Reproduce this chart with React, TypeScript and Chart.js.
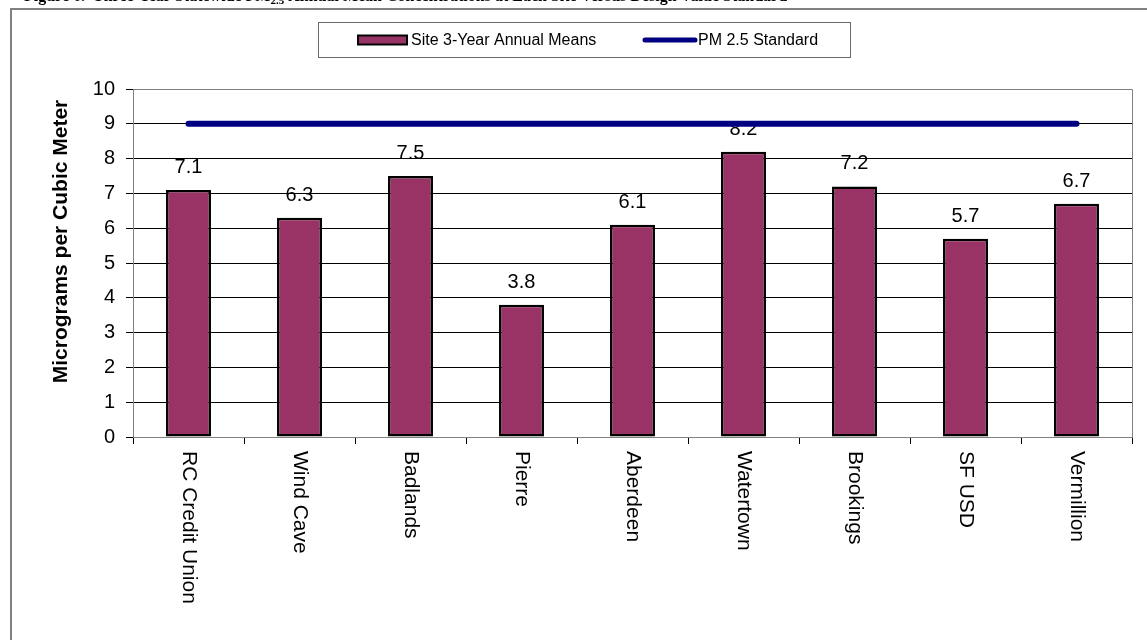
import React, { useEffect, useRef } from "react";
import { Chart, registerables } from "chart.js";

Chart.register(...registerables);

// ---- Data ----
const categories = [
  "RC Credit Union",
  "Wind Cave",
  "Badlands",
  "Pierre",
  "Aberdeen",
  "Watertown",
  "Brookings",
  "SF USD",
  "Vermillion",
];
const annualMeans = [7.1, 6.3, 7.5, 3.8, 6.1, 8.2, 7.2, 5.7, 6.7];
const standardValues = [9, 9, 9, 9, 9, 9, 9, 9, 9];
const seriesLabels = ["Site 3-Year Annual Means", "PM 2.5 Standard"];
const yAxisTitle = "Micrograms per Cubic Meter";
const yMin = 0;
const yMax = 10;
const yStep = 1;
const titleParts = [
  "Figure 6.  Three-Year Statewide PM",
  "2.5",
  " Annual Mean Concentrations at Each Site Versus Design Value Standard",
];

// ---- Styles ----
const SANS = "'Liberation Sans', Arial, sans-serif";
const SERIF = "'Liberation Serif', 'Times New Roman', serif";
const BAR_COLOR = "#993366";
const LINE_COLOR = "#000080";
const W = 1147;
const H = 640;

const decorPlugin = {
  id: "decor",
  beforeDraw(chart: any) {
    const ctx = chart.ctx as CanvasRenderingContext2D;
    ctx.save();
    ctx.fillStyle = "#ffffff";
    ctx.fillRect(0, 0, chart.width, chart.height);
    // outer frame (extends beyond view)
    ctx.strokeStyle = "#808080";
    ctx.lineWidth = 2;
    ctx.strokeRect(11, 9, chart.width + 40, chart.height + 40);
    // partially visible page title (mostly cut off at the top)
    ctx.fillStyle = "#000";
    ctx.textBaseline = "alphabetic";
    ctx.textAlign = "left";
    let x = 24;
    const y = 0.5;
    ctx.font = `bold 16px ${SERIF}`;
    ctx.fillText(titleParts[0], x, y);
    x += ctx.measureText(titleParts[0]).width;
    ctx.font = `bold 11px ${SERIF}`;
    ctx.fillText(titleParts[1], x, y + 3.5);
    x += ctx.measureText(titleParts[1]).width;
    ctx.font = `bold 16px ${SERIF}`;
    ctx.fillText(titleParts[2], x, y);
    ctx.restore();
  },
  beforeDatasetsDraw(chart: any) {
    const ctx = chart.ctx as CanvasRenderingContext2D;
    const { left, top, right, bottom } = chart.chartArea;
    ctx.save();
    ctx.strokeStyle = "#808080";
    ctx.lineWidth = 1;
    ctx.beginPath();
    ctx.moveTo(left, top + 0.5);
    ctx.lineTo(right + 0.5, top + 0.5);
    ctx.lineTo(right + 0.5, bottom);
    ctx.stroke();
    ctx.restore();
  },
  afterDatasetDraw(chart: any, args: any) {
    if (args.index !== 0) return;
    const ctx = chart.ctx as CanvasRenderingContext2D;
    const meta = chart.getDatasetMeta(0);
    const data = chart.data.datasets[0].data as number[];
    ctx.save();
    ctx.fillStyle = "#000";
    ctx.font = `20px ${SANS}`;
    ctx.textAlign = "center";
    ctx.textBaseline = "alphabetic";
    meta.data.forEach((el: any, i: number) => {
      ctx.fillText(data[i].toFixed(1), el.x, el.y - 17);
    });
    ctx.restore();
  },
  afterDraw(chart: any) {
    const ctx = chart.ctx as CanvasRenderingContext2D;
    const xScale = chart.scales.x;
    const { bottom } = chart.chartArea;
    ctx.save();
    // rotated category labels
    ctx.fillStyle = "#000";
    ctx.font = `21px ${SANS}`;
    ctx.textAlign = "left";
    ctx.textBaseline = "middle";
    (chart.data.labels as string[]).forEach((lab, i) => {
      const px = xScale.getPixelForValue(i);
      ctx.save();
      ctx.translate(px, bottom + 14);
      ctx.rotate(Math.PI / 2);
      ctx.fillText(lab, 0, 0);
      ctx.restore();
    });
    // y axis title
    ctx.save();
    ctx.font = `bold 21px ${SANS}`;
    ctx.textAlign = "center";
    ctx.textBaseline = "alphabetic";
    ctx.translate(67, 241.5);
    ctx.rotate(-Math.PI / 2);
    ctx.fillText(yAxisTitle, 0, 0);
    ctx.restore();
    // legend
    const ds = chart.data.datasets;
    const cy = 40;
    ctx.strokeStyle = "#6b6b6b";
    ctx.lineWidth = 1;
    ctx.strokeRect(318.5, 22.5, 532, 35);
    ctx.fillStyle = ds[0].backgroundColor;
    ctx.fillRect(358, cy - 4.5, 49, 9);
    ctx.strokeStyle = "#000";
    ctx.lineWidth = 2;
    ctx.strokeRect(358, cy - 4.5, 49, 9);
    ctx.fillStyle = "#000";
    ctx.font = `16px ${SANS}`;
    ctx.textAlign = "left";
    ctx.textBaseline = "middle";
    ctx.fillText(ds[0].label, 411, cy + 1);
    ctx.strokeStyle = ds[1].borderColor;
    ctx.lineWidth = 5;
    ctx.lineCap = "round";
    ctx.beginPath();
    ctx.moveTo(645, cy);
    ctx.lineTo(695, cy);
    ctx.stroke();
    ctx.fillText(ds[1].label, 698, cy + 1);
    ctx.restore();
  },
};

export default function App() {
  const canvasRef = useRef<HTMLCanvasElement | null>(null);

  useEffect(() => {
    if (!canvasRef.current) return;
    const chart = new Chart(canvasRef.current, {
      type: "bar",
      data: {
        labels: categories,
        datasets: [
          {
            type: "bar",
            label: seriesLabels[0],
            data: annualMeans,
            backgroundColor: BAR_COLOR,
            borderColor: "#000",
            borderWidth: 2.5,
            borderSkipped: false,
            barPercentage: 0.405,
            categoryPercentage: 1,
            order: 1,
          } as any,
          {
            type: "line",
            label: seriesLabels[1],
            data: standardValues,
            borderColor: LINE_COLOR,
            backgroundColor: LINE_COLOR,
            borderWidth: 6,
            borderCapStyle: "round",
            pointRadius: 0,
            pointHoverRadius: 0,
            fill: false,
            tension: 0,
            order: 0,
          } as any,
        ],
      },
      options: {
        responsive: false,
        animation: false,
        devicePixelRatio: 1,
        layout: { padding: { top: 89, right: 15, left: 0, bottom: 0 } },
        plugins: {
          legend: { display: false },
          title: { display: false },
          tooltip: { enabled: false },
        },
        scales: {
          x: {
            offset: true,
            afterFit: (s: any) => {
              s.height = H - 437;
            },
            ticks: { display: false },
            grid: {
              display: true,
              offset: true,
              drawOnChartArea: false,
              drawTicks: true,
              tickLength: 7,
              tickColor: "#000",
            },
            border: { display: true, color: "#808080", width: 1 },
          },
          y: {
            min: yMin,
            max: yMax,
            afterFit: (s: any) => {
              s.width = 133;
            },
            ticks: {
              stepSize: yStep,
              color: "#000",
              font: { family: SANS, size: 20 },
              padding: 11,
            },
            grid: {
              color: (c: any) => (c.tick && c.tick.value === yMax ? "#808080" : "#000"),
              lineWidth: 1,
              drawTicks: true,
              tickLength: 7,
              tickColor: "#000",
            },
            border: { display: true, color: "#808080", width: 1 },
          },
        },
      },
      plugins: [decorPlugin],
    });
    return () => chart.destroy();
  }, []);

  return (
    <div
      style={{
        position: "absolute",
        left: 0,
        top: 0,
        width: W,
        height: H,
        overflow: "hidden",
        background: "#fff",
      }}
    >
      <canvas ref={canvasRef} width={W} height={H} style={{ width: W, height: H, display: "block" }} />
    </div>
  );
}
